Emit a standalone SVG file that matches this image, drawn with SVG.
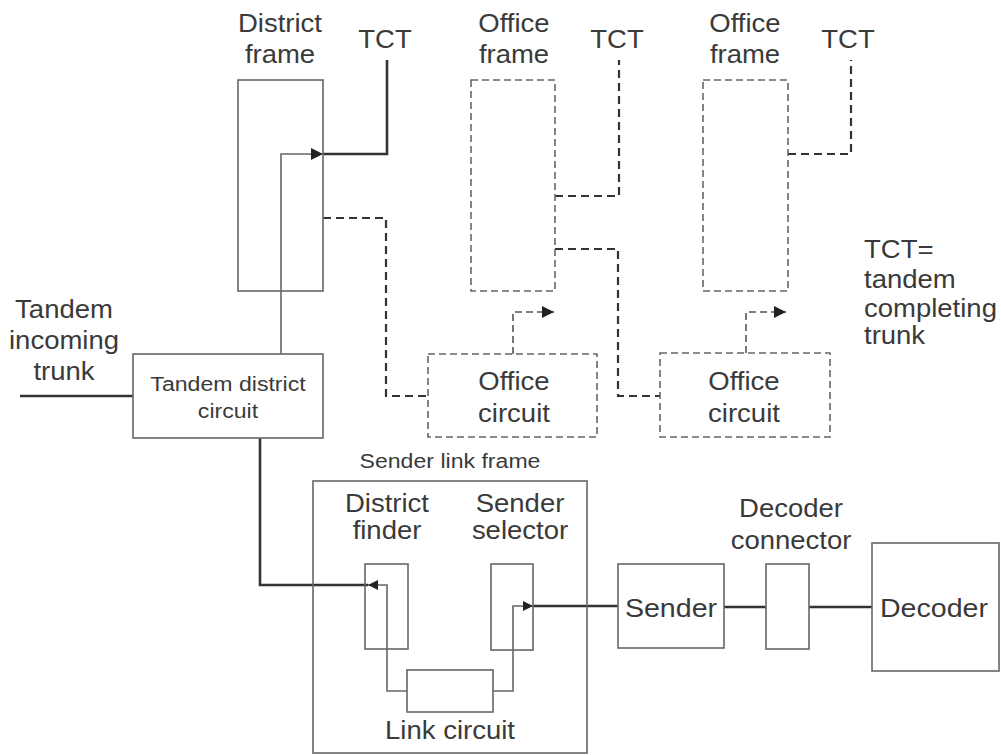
<svg xmlns="http://www.w3.org/2000/svg" width="1001" height="755" viewBox="0 0 1001 755">
<style>
  text { font-family: "Liberation Sans", Arial, sans-serif; fill: #3a3a3a; }
  .big { font-size: 25px; }
  .big2 { font-size: 26px; }
  .small { font-size: 21px; }
  .box { fill: none; stroke: #666; stroke-width: 1.6; }
  .dbox { fill: none; stroke: #666; stroke-width: 1.6; stroke-dasharray: 7 4; }
  .thick { fill: none; stroke: #333; stroke-width: 2.6; }
  .thin { fill: none; stroke: #666; stroke-width: 1.6; }
  .dash { fill: none; stroke: #333; stroke-width: 2.2; stroke-dasharray: 8 5; }
  .ddash { fill: none; stroke: #555; stroke-width: 1.6; stroke-dasharray: 7 4; }
</style>
<defs>
  <marker id="arr" viewBox="0 0 12 12" refX="12" refY="6" markerWidth="12" markerHeight="12" markerUnits="userSpaceOnUse" orient="auto">
    <path d="M0,0 L12,6 L0,12 Z" fill="#222"/>
  </marker>
  <marker id="arrS" viewBox="0 0 10 10" refX="10" refY="5" markerWidth="10" markerHeight="10" markerUnits="userSpaceOnUse" orient="auto">
    <path d="M0,0 L10,5 L0,10 Z" fill="#222"/>
  </marker>
</defs>
<rect width="1001" height="755" fill="#fff"/>

<g id="connectors">
  <!-- district frame switch path -->
  <path class="thin" d="M281,354 V154 H323" marker-end="url(#arr)"/>
  <path class="thick" d="M387,60 V154 H323"/>
  <!-- dashed district frame to office circuit 1 -->
  <path class="dash" d="M323,218 H386 V396 H428"/>
  <!-- office frame 1 TCT -->
  <path class="dash" d="M555,196 H619 V60"/>
  <!-- office frame 1 to office circuit 2 -->
  <path class="dash" d="M555,249 H618 V396 H660"/>
  <!-- office frame 2 TCT -->
  <path class="dash" d="M788,154 H851 V60"/>
  <!-- dashed arrows from office circuits -->
  <path class="ddash" d="M513,354 V312 H554" marker-end="url(#arr)"/>
  <path class="ddash" d="M746,353 V312 H786" marker-end="url(#arr)"/>
  <!-- incoming trunk -->
  <path class="thick" d="M20,396 H133"/>
  <!-- tandem district circuit to district finder -->
  <path class="thick" d="M260,438 V585 H368"/>
  <path class="thin" d="M407,691 H387 V585 H368" marker-end="url(#arrS)"/>
  <!-- link circuit to sender selector -->
  <path class="thin" d="M493,691 H513 V606 H533" marker-end="url(#arrS)"/>
  <path class="thick" d="M533,606 H618"/>
  <!-- sender to decoder -->
  <path class="thick" d="M724,607 H766"/>
  <path class="thick" d="M809,607 H872"/>
</g>

<g id="district-frame">
  <rect class="box" x="238" y="80" width="85" height="211"/>
  <text class="big" text-anchor="middle" transform="translate(280,0) scale(1.1,1)" y="32">District</text>
  <text class="big" text-anchor="middle" transform="translate(280,0) scale(1.1,1)" y="63">frame</text>
</g>
<g id="tct1"><text class="big" text-anchor="middle" transform="translate(385,0) scale(1.1,1)" y="48">TCT</text></g>

<g id="office-frame-1">
  <rect class="dbox" x="471" y="80" width="84" height="211"/>
  <text class="big" text-anchor="middle" transform="translate(514,0) scale(1.1,1)" y="32">Office</text>
  <text class="big" text-anchor="middle" transform="translate(514,0) scale(1.1,1)" y="63">frame</text>
</g>
<g id="tct2"><text class="big" text-anchor="middle" transform="translate(617,0) scale(1.1,1)" y="48">TCT</text></g>

<g id="office-frame-2">
  <rect class="dbox" x="703" y="80" width="85" height="211"/>
  <text class="big" text-anchor="middle" transform="translate(745,0) scale(1.1,1)" y="32">Office</text>
  <text class="big" text-anchor="middle" transform="translate(745,0) scale(1.1,1)" y="63">frame</text>
</g>
<g id="tct3"><text class="big" text-anchor="middle" transform="translate(848,0) scale(1.1,1)" y="48">TCT</text></g>

<g id="legend">
  <text class="big" transform="translate(864,0) scale(1.1,1)" y="258">TCT=</text>
  <text class="big" transform="translate(864,0) scale(1.1,1)" y="288">tandem</text>
  <text class="big" transform="translate(864,0) scale(1.1,1)" y="317">completing</text>
  <text class="big" transform="translate(864,0) scale(1.1,1)" y="344">trunk</text>
</g>

<g id="office-circuit-1">
  <rect class="dbox" x="428" y="354" width="169" height="83"/>
  <text class="big" text-anchor="middle" transform="translate(514,0) scale(1.1,1)" y="390">Office</text>
  <text class="big" text-anchor="middle" transform="translate(514,0) scale(1.1,1)" y="422">circuit</text>
</g>
<g id="office-circuit-2">
  <rect class="dbox" x="660" y="353" width="170" height="84"/>
  <text class="big" text-anchor="middle" transform="translate(744,0) scale(1.1,1)" y="390">Office</text>
  <text class="big" text-anchor="middle" transform="translate(744,0) scale(1.1,1)" y="422">circuit</text>
</g>

<g id="tandem-incoming-trunk">
  <text class="big" text-anchor="middle" transform="translate(64,0) scale(1.1,1)" y="318">Tandem</text>
  <text class="big" text-anchor="middle" transform="translate(64,0) scale(1.1,1)" y="349">incoming</text>
  <text class="big" text-anchor="middle" transform="translate(64,0) scale(1.1,1)" y="380">trunk</text>
</g>

<g id="tandem-district-circuit">
  <rect class="box" x="133" y="354" width="190" height="84"/>
  <text class="small" text-anchor="middle" transform="translate(228,0) scale(1.1,1)" y="391">Tandem district</text>
  <text class="small" text-anchor="middle" transform="translate(228,0) scale(1.1,1)" y="418">circuit</text>
</g>

<g id="sender-link-frame">
  <rect class="box" x="313" y="481" width="274" height="272"/>
  <text class="small" text-anchor="middle" transform="translate(450,0) scale(1.1,1)" y="468">Sender link frame</text>
</g>

<g id="district-finder">
  <rect class="box" x="365" y="564" width="43" height="85"/>
  <text class="big" text-anchor="middle" transform="translate(387,0) scale(1.1,1)" y="512">District</text>
  <text class="big" text-anchor="middle" transform="translate(387,0) scale(1.1,1)" y="539">finder</text>
</g>

<g id="sender-selector">
  <rect class="box" x="491" y="564" width="42" height="86"/>
  <text class="big" text-anchor="middle" transform="translate(520,0) scale(1.1,1)" y="512">Sender</text>
  <text class="big" text-anchor="middle" transform="translate(520,0) scale(1.1,1)" y="539">selector</text>
</g>

<g id="link-circuit">
  <rect class="box" x="407" y="670" width="86" height="42"/>
  <text class="big" text-anchor="middle" transform="translate(450,0) scale(1.1,1)" y="739">Link circuit</text>
</g>

<g id="sender">
  <rect class="box" x="618" y="564" width="106" height="84"/>
  <text class="big2" text-anchor="middle" transform="translate(671,0) scale(1.1,1)" y="617">Sender</text>
</g>

<g id="decoder-connector">
  <rect class="box" x="766" y="564" width="43" height="85"/>
  <text class="big" text-anchor="middle" transform="translate(791,0) scale(1.1,1)" y="517">Decoder</text>
  <text class="big" text-anchor="middle" transform="translate(791,0) scale(1.1,1)" y="549">connector</text>
</g>

<g id="decoder">
  <rect class="box" x="872" y="543" width="127" height="128"/>
  <text class="big2" text-anchor="middle" transform="translate(934,0) scale(1.1,1)" y="617">Decoder</text>
</g>
</svg>
